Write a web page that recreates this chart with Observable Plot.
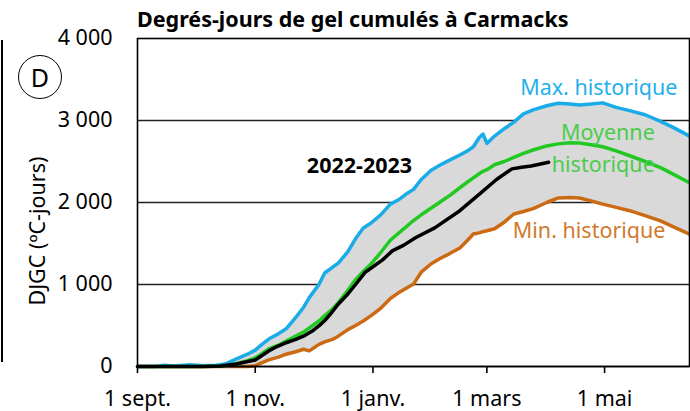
<!DOCTYPE html>
<html><head><meta charset="utf-8">
<script src="https://cdn.jsdelivr.net/npm/d3@7"></script>
<script src="https://cdn.jsdelivr.net/npm/@observablehq/plot@0.6"></script>
<style>
body{margin:0;background:#fff;}
#wrap{position:relative;width:690px;height:411px;font-family:"Noto Sans",sans-serif;color:#000;overflow:hidden;}
#title{position:absolute;left:137px;top:4px;font-weight:bold;font-size:21.5px;white-space:nowrap;}
#chart{position:absolute;left:0;top:0;}
#ylabel{position:absolute;left:36px;top:231px;font-size:21.5px;white-space:nowrap;transform:translate(-50%,-50%) rotate(-90deg);}
#panel{position:absolute;left:18px;top:55px;width:42px;height:42px;border:1.8px solid #000;border-radius:50%;font-size:25px;line-height:42px;text-align:center;}
#vline{position:absolute;left:1px;top:40px;width:1.5px;height:322px;background:#000;}
</style></head><body>
<div id="wrap">
  <div id="chart"></div>
  <div id="title">Degrés-jours de gel cumulés à Carmacks</div>
  <div id="ylabel">DJGC (ºC-jours)</div>
  <div id="panel">D</div>
  <div id="vline"></div>
</div>
<script>
// Historical series (shared dates)
const histDates = ["2022-09-01","2022-09-10","2022-09-15","2022-09-20","2022-09-28","2022-10-05","2022-10-12","2022-10-17","2022-10-22","2022-10-28",
"2022-11-01","2022-11-04","2022-11-08","2022-11-13","2022-11-17","2022-11-22","2022-11-26","2022-11-29","2022-12-04","2022-12-07",
"2022-12-11","2022-12-14","2022-12-19","2022-12-23","2022-12-27","2022-12-31","2023-01-05","2023-01-10","2023-01-14","2023-01-18",
"2023-01-22","2023-01-26","2023-01-31","2023-02-05","2023-02-10","2023-02-15","2023-02-19","2023-02-22","2023-02-25","2023-02-27",
"2023-03-01","2023-03-05","2023-03-10","2023-03-15","2023-03-20","2023-03-25","2023-04-01","2023-04-07","2023-04-13","2023-04-18",
"2023-04-24","2023-04-30","2023-05-07","2023-05-14","2023-05-22","2023-05-30","2023-06-06","2023-06-14"];
const maxVals = [0,0,15,5,20,10,15,35,90,150,
200,260,335,400,460,600,720,840,1000,1140,
1210,1260,1400,1560,1690,1750,1850,1980,2030,2100,
2160,2280,2390,2460,2520,2580,2630,2680,2790,2835,
2720,2810,2900,2980,3080,3130,3180,3210,3200,3190,
3200,3215,3160,3120,3070,2990,2910,2810];
const meanVals = [0,0,0,0,0,0,2,10,30,70,
105,150,215,260,310,370,420,470,555,620,
700,780,930,1060,1160,1250,1390,1540,1620,1700,
1780,1850,1930,2010,2090,2180,2250,2300,2350,2380,
2400,2460,2500,2550,2600,2640,2690,2715,2730,2725,
2705,2680,2630,2570,2500,2425,2340,2240];
const minVals = [0,0,0,0,0,0,0,0,0,0,
10,40,80,115,150,180,210,190,270,300,
330,370,450,500,555,620,710,830,895,950,
1005,1150,1250,1320,1380,1445,1540,1615,1630,1645,
1655,1680,1760,1860,1890,1925,2000,2055,2060,2055,
2020,1980,1940,1900,1840,1775,1700,1615];

// Current season 2022-2023
const curDates = ["2022-09-01","2022-10-05","2022-10-14","2022-10-22","2022-11-01","2022-11-08","2022-11-12","2022-11-17","2022-11-22","2022-11-26",
"2022-12-01","2022-12-04","2022-12-07","2022-12-10","2022-12-14","2022-12-19","2022-12-23","2022-12-28","2023-01-06","2023-01-11",
"2023-01-17","2023-01-23","2023-02-02","2023-02-15","2023-02-25","2023-03-06","2023-03-14","2023-03-19","2023-03-24","2023-04-02"];
const curVals = [0,0,5,30,80,190,240,290,330,370,
440,495,560,640,760,885,1000,1150,1300,1410,
1480,1570,1690,1900,2100,2280,2410,2430,2445,2490];

const yTicks = [0,1000,2000,3000,4000];
const gridVals = [1000,2000,3000];
const xTickDates = ["2022-09-01","2022-11-01","2023-01-01","2023-03-01","2023-05-01"];
const xTickLabels = ["1 sept.","1 nov.","1 janv.","1 mars","1 mai"];
const xDomain = ["2022-09-01","2023-06-14"];

const labelTexts = ["Max. historique","Moyenne\nhistorique","Min. historique","2022-2023"];
const labelDates = ["2023-04-28","2023-05-27","2023-04-23","2022-12-25"];
const labelVals = [3400,2690,1655,2440];

const P = d3.utcParse("%Y-%m-%d");
const hist = histDates.map((d,i)=>({date:P(d),max:maxVals[i],mean:meanVals[i],min:minVals[i]}));
const cur = curDates.map((d,i)=>({date:P(d),v:curVals[i]}));
const labelMap = new Map(xTickDates.map((d,i)=>[+P(d), xTickLabels[i]]));
const fmt = d => d3.format(",")(d).replace(/,/g," ");
const lab = labelTexts.map((t,i)=>({t,date:P(labelDates[i]),v:labelVals[i]}));

const BLUE="#19ace8", GREEN="#22c922", ORANGE="#cc6a14";
const FS = 21.5;

const chart = Plot.plot({
  width:690, height:411,
  marginLeft:137, marginRight:1, marginTop:38, marginBottom:45,
  style:{fontFamily:"'Noto Sans', sans-serif", fontSize:FS+"px", color:"#000", background:"#fff"},
  x:{type:"utc", domain:xDomain.map(P)},
  y:{domain:[0,4000]},
  marks:[
    Plot.ruleY(gridVals,{stroke:"#222",strokeWidth:1.6}),
    Plot.areaY(hist,{x:"date",y1:"min",y2:"max",fill:"#d9d9d9"}),
    Plot.lineY(hist,{x:"date",y:"min",stroke:ORANGE,strokeWidth:3.5}),
    Plot.lineY(hist,{x:"date",y:"max",stroke:BLUE,strokeWidth:3.5}),
    Plot.lineY(hist,{x:"date",y:"mean",stroke:GREEN,strokeWidth:3.5}),
    Plot.lineY(cur,{x:"date",y:"v",stroke:"#000",strokeWidth:3.5}),
    Plot.ruleY([0],{stroke:"#000",strokeWidth:1.6}),
    Plot.frame({stroke:"#000",strokeWidth:1.6}),
    Plot.text([lab[0]],{x:"date",y:"v",text:"t",fill:"#1fb0ea",fontSize:FS}),
    Plot.text([lab[1]],{x:"date",y:"v",text:"t",fill:"#4ccb4c",fontSize:FS,textAnchor:"end",lineHeight:1.5}),
    Plot.text([lab[2]],{x:"date",y:"v",text:"t",fill:"#d17a2c",fontSize:FS}),
    Plot.text([lab[3]],{x:"date",y:"v",text:"t",fill:"#000",fontSize:FS,fontWeight:"bold"}),
    Plot.axisY({ticks:yTicks,tickSize:0,tickPadding:25,tickFormat:fmt,label:null,fontSize:FS}),
    Plot.axisX({ticks:xTickDates.map(P),tickSize:7,tickPadding:17,tickFormat:d=>labelMap.get(+d),label:null,fontSize:FS,strokeWidth:1.6})
  ]
});
document.getElementById("chart").appendChild(chart);
</script>
</body></html>
